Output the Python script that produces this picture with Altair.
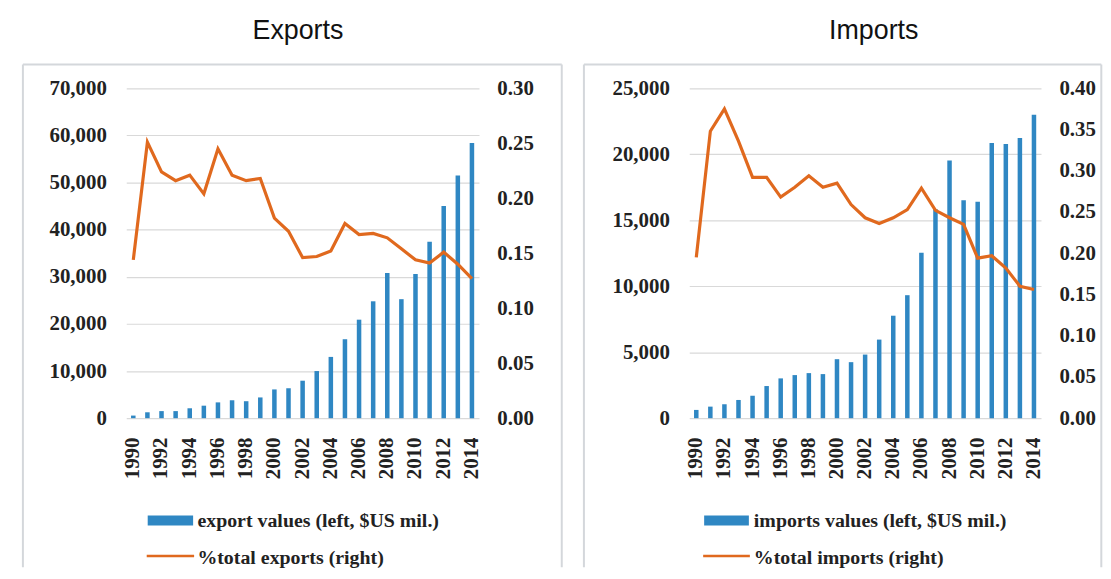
import altair as alt
import pandas as pd

years = list(range(1990, 2015))
label_years = list(range(1990, 2015, 2))

export_values = [550, 1250, 1500, 1500, 2100, 2650, 3350, 3800, 3600, 4400,
                 6100, 6350, 7950, 10000, 13000, 16750, 20900, 24800, 30800, 25250,
                 30600, 37450, 45000, 51500, 58400]
export_share = [0.144, 0.251, 0.224, 0.216, 0.221, 0.204, 0.245, 0.221, 0.216, 0.218,
                0.182, 0.170, 0.146, 0.147, 0.152, 0.177, 0.167, 0.168, 0.164, 0.154,
                0.144, 0.141, 0.151, 0.140, 0.127]

import_values = [625, 875, 1055, 1380, 1705, 2435, 3015, 3265, 3415, 3340,
                 4470, 4245, 4820, 5955, 7765, 9320, 12540, 15830, 19525, 16510,
                 16405, 20855, 20780, 21230, 22995]
import_share = [0.195, 0.348, 0.375, 0.336, 0.292, 0.292, 0.268, 0.280, 0.294, 0.280,
                0.285, 0.259, 0.243, 0.236, 0.243, 0.253, 0.279, 0.252, 0.243, 0.235,
                0.194, 0.197, 0.182, 0.160, 0.156]

panel_titles = ["Exports", "Imports"]
bar_labels = ["export values (left, $US mil.)", "imports values (left, $US mil.)"]
line_labels = ["%total exports (right)", "%total imports (right)"]

export_left_ticks = [0, 10000, 20000, 30000, 40000, 50000, 60000, 70000]
export_right_ticks = [0.0, 0.05, 0.10, 0.15, 0.20, 0.25, 0.30]
import_left_ticks = [0, 5000, 10000, 15000, 20000, 25000]
import_right_ticks = [0.0, 0.05, 0.10, 0.15, 0.20, 0.25, 0.30, 0.35, 0.40]

BLUE = "#2f87c3"
ORANGE = "#e0691e"
GRID = "#d9d9d9"
FRAME = "#d4d7db"
TXT = "#222222"
SERIF = "Liberation Serif"
SANS = "Liberation Sans"
H = 332


def one(label):
    return pd.DataFrame({"label": [label]})


def panel(values, share, title, bar_lab, line_lab, lticks, rticks, W,
          frame_left, frame_right, title_x, leg_x0, leg_x1, text_x):
    df = pd.DataFrame({"year": years, "value": values, "share": share})
    xenc = alt.X("year:O",
                 scale=alt.Scale(paddingInner=0.68, paddingOuter=0.34),
                 axis=alt.Axis(values=label_years, labelAngle=270, labelFont=SERIF,
                               labelFontSize=21, labelFontWeight="bold", labelColor=TXT,
                               labelPadding=19, domain=False, ticks=False, grid=False,
                               title=None))
    bars = alt.Chart(df).mark_bar(color=BLUE).encode(
        x=xenc,
        y=alt.Y("value:Q", scale=alt.Scale(domain=[lticks[0], lticks[-1]], nice=False),
                axis=alt.Axis(values=lticks, format=",d", grid=True, gridColor=GRID,
                              gridWidth=1.2, domain=False, ticks=False, labelPadding=20,
                              labelFont=SERIF, labelFontSize=21, labelFontWeight="bold",
                              labelColor=TXT, title=None, orient="left")))
    line = alt.Chart(df).mark_line(color=ORANGE, strokeWidth=3.2).encode(
        x=xenc,
        y=alt.Y("share:Q", scale=alt.Scale(domain=[rticks[0], rticks[-1]], nice=False),
                axis=alt.Axis(values=rticks, format=".2f", grid=False, domain=False,
                              ticks=False, labelPadding=18, labelFont=SERIF,
                              labelFontSize=21, labelFontWeight="bold", labelColor=TXT,
                              title=None, orient="right")))
    deco = []
    top_y = -24
    bottom_y = 482
    deco.append(alt.Chart(one("")).mark_rule(color=FRAME, strokeWidth=2).encode(
        x=alt.value(frame_left), x2=alt.value(frame_right), y=alt.value(top_y)))
    deco.append(alt.Chart(one("")).mark_rule(color=FRAME, strokeWidth=2).encode(
        x=alt.value(frame_left), y=alt.value(top_y), y2=alt.value(bottom_y)))
    if frame_right < W + 100:
        deco.append(alt.Chart(one("")).mark_rule(color=FRAME, strokeWidth=2).encode(
            x=alt.value(frame_right), y=alt.value(top_y), y2=alt.value(bottom_y)))
    deco.append(alt.Chart(one(title)).mark_text(
        font=SANS, fontSize=27, align="center", baseline="top", color="#111111").encode(
        x=alt.value(title_x), y=alt.value(-71), text="label:N"))
    deco.append(alt.Chart(one("")).mark_rect(color=BLUE).encode(
        x=alt.value(leg_x0), x2=alt.value(leg_x1), y=alt.value(430), y2=alt.value(440)))
    deco.append(alt.Chart(one(bar_lab)).mark_text(
        font=SERIF, fontSize=20, fontWeight="bold", align="left", baseline="alphabetic",
        color=TXT).encode(
        x=alt.value(text_x), y=alt.value(441.3), text="label:N"))
    deco.append(alt.Chart(one("")).mark_rule(color=ORANGE, strokeWidth=2.5).encode(
        x=alt.value(leg_x0 - 1), x2=alt.value(leg_x1 + 1), y=alt.value(470.6)))
    deco.append(alt.Chart(one(line_lab)).mark_text(
        font=SERIF, fontSize=20, fontWeight="bold", align="left", baseline="alphabetic",
        color=TXT).encode(
        x=alt.value(text_x), y=alt.value(479), text="label:N"))
    return alt.layer(bars, line, *deco).resolve_scale(y="independent").properties(
        width=W, height=H)


left = panel(export_values, export_share, panel_titles[0], bar_labels[0], line_labels[0],
             export_left_ticks, export_right_ticks, 355,
             -104, 438.3, 172.8, 21.6, 67.3, 71.6)
right = panel(import_values, import_share, panel_titles[1], bar_labels[1], line_labels[1],
              import_left_ticks, import_right_ticks, 354,
              -106, 414.7, 185.7, 15, 60, 65)

chart = alt.hconcat(left, right, spacing=211.6, bounds="flush").properties(
    padding={"left": 14, "top": 7, "right": 0, "bottom": 0},
    background="white",
).configure_view(stroke=None)

chart.save("out.html", embed_options={"renderer": "svg", "actions": False})
